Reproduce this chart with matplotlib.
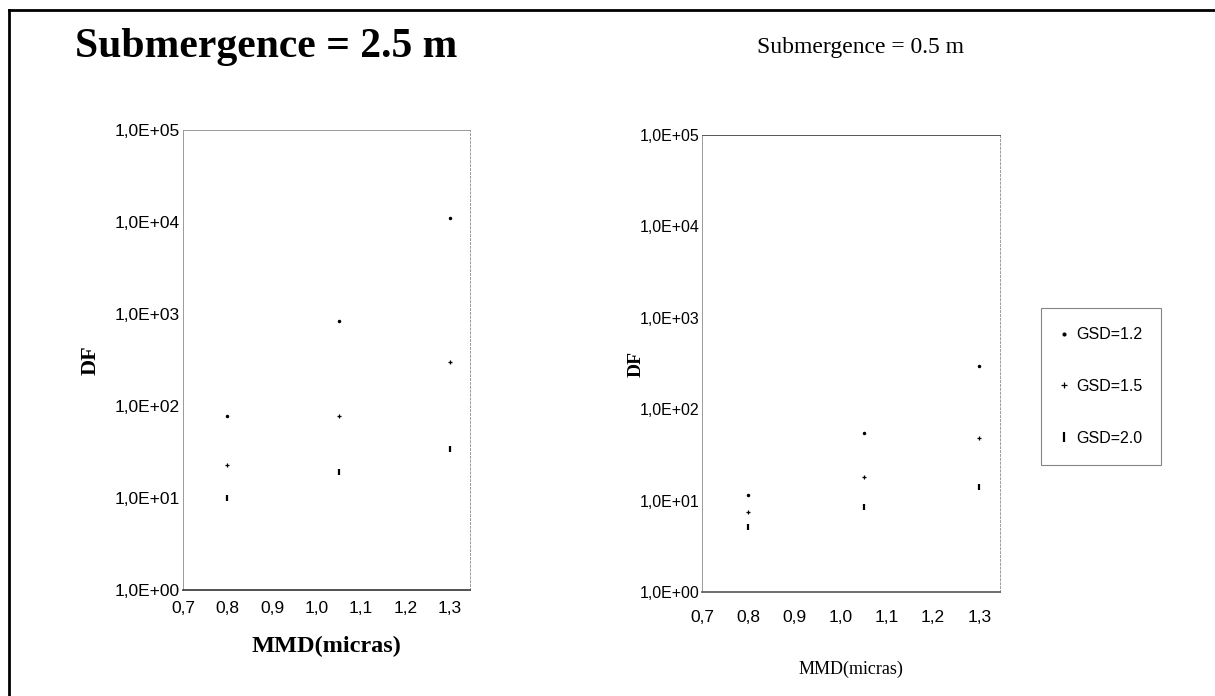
import matplotlib
matplotlib.use("Agg")
import matplotlib.pyplot as plt
from matplotlib.lines import Line2D

# data
mmd = [0.8, 1.05, 1.3]
gsd_labels = ["GSD=1.2", "GSD=1.5", "GSD=2.0"]

df_sub25_gsd12 = [78, 850, 11000]
df_sub25_gsd15 = [23, 78, 300]
df_sub25_gsd20 = [10, 19, 34]

df_sub05_gsd12 = [11.5, 55, 300]
df_sub05_gsd15 = [7.5, 18, 49]
df_sub05_gsd20 = [5.1, 8.6, 14]

x_ticks = [0.7, 0.8, 0.9, 1.0, 1.1, 1.2, 1.3]
x_tick_labels = ["0,7", "0,8", "0,9", "1,0", "1,1", "1,2", "1,3"]
y_ticks = [1, 10, 100, 1000, 10000, 100000]
y_tick_labels = ["1,0E+00", "1,0E+01", "1,0E+02", "1,0E+03", "1,0E+04", "1,0E+05"]

sans = ["Liberation Sans", "DejaVu Sans"]
narrow = ["Liberation Sans Narrow", "Liberation Sans", "DejaVu Sans"]
serif = ["Liberation Serif", "DejaVu Serif"]

markers = [dict(marker=".", ms=3), dict(marker="+", ms=3.5, mew=0.9), dict(marker="|", ms=5, mew=1.6)]

fig = plt.figure(figsize=(12.15, 6.96), dpi=100)
fig.patch.set_facecolor("white")

# page frame (top and left edges of the scanned box)
fig.add_artist(Line2D([0.007, 1.0], [0.986, 0.986], transform=fig.transFigure, color="black", lw=2))
fig.add_artist(Line2D([0.007, 0.007], [0.0, 0.986], transform=fig.transFigure, color="black", lw=2))


def setup_axes(ax, tick_family, ytick_size, xtick_size, xpad):
    ax.set_yscale("log")
    ax.set_ylim(1, 100000)
    ax.set_xlim(0.7, 1.345)
    ax.set_xticks(x_ticks)
    ax.set_xticklabels(x_tick_labels, family=tick_family, fontsize=xtick_size)
    ax.set_yticks(y_ticks)
    ax.set_yticklabels(y_tick_labels, family=tick_family, fontsize=ytick_size)
    ax.minorticks_off()
    ax.tick_params(length=0)
    ax.tick_params(axis="y", pad=2)
    ax.tick_params(axis="x", pad=xpad)
    for side in ["left", "right", "top"]:
        ax.spines[side].set_color("#9a9a9a")
        ax.spines[side].set_linewidth(0.7)
    ax.spines["left"].set_linestyle((0, (3, 1)))
    ax.spines["right"].set_linestyle((0, (2, 2)))
    ax.spines["bottom"].set_color("#333333")
    ax.spines["bottom"].set_linewidth(1.2)


# left panel: submergence 2.5 m
ax1 = fig.add_axes([0.1506, 0.1523, 0.2362, 0.6606])
for vals, mk in zip([df_sub25_gsd12, df_sub25_gsd15, df_sub25_gsd20], markers):
    ax1.plot(mmd, vals, ls="none", color="black", **mk)
setup_axes(ax1, sans, 12.5, 12.5, 8)
ax1.set_xlabel("MMD(micras)", family=serif, fontsize=17.5, fontweight="bold", labelpad=14)
ax1.set_ylabel("DF", family=serif, fontsize=16, fontweight="bold", labelpad=10)
fig.text(0.219, 0.932, "Submergence = 2.5 m", family=serif, fontsize=30, fontweight="bold",
         ha="center", va="center")

# right panel: submergence 0.5 m
ax2 = fig.add_axes([0.5778, 0.1494, 0.2453, 0.6566])
handles = []
for vals, mk, lab in zip([df_sub05_gsd12, df_sub05_gsd15, df_sub05_gsd20], markers, gsd_labels):
    h, = ax2.plot(mmd, vals, ls="none", color="black", label=lab, **mk)
    handles.append(h)
setup_axes(ax2, narrow, 11.5, 12.5, 13)
ax2.spines["top"].set_linestyle("-")
ax2.spines["top"].set_color("#555555")
ax2.spines["bottom"].set_color("#555555")
ax2.set_xlabel("MMD(micras)", family=serif, fontsize=13, labelpad=26)
ax2.set_ylabel("DF", family=serif, fontsize=14, fontweight="bold", labelpad=-4)
fig.text(0.708, 0.932, "Submergence = 0.5 m", family=serif, fontsize=17,
         ha="center", va="center")

leg = fig.legend(handles=handles, loc="upper left", bbox_to_anchor=(0.854, 0.562),
                 prop=dict(family=narrow, size=11.5), frameon=True, fancybox=False,
                 labelspacing=2.3, borderpad=1.2, handlelength=0.5, handletextpad=0.5,
                 borderaxespad=0.2, markerscale=1.3)
leg.get_frame().set_edgecolor("#666666")
leg.get_frame().set_linewidth(0.8)

fig.savefig("out.png", dpi=100, facecolor="white")
